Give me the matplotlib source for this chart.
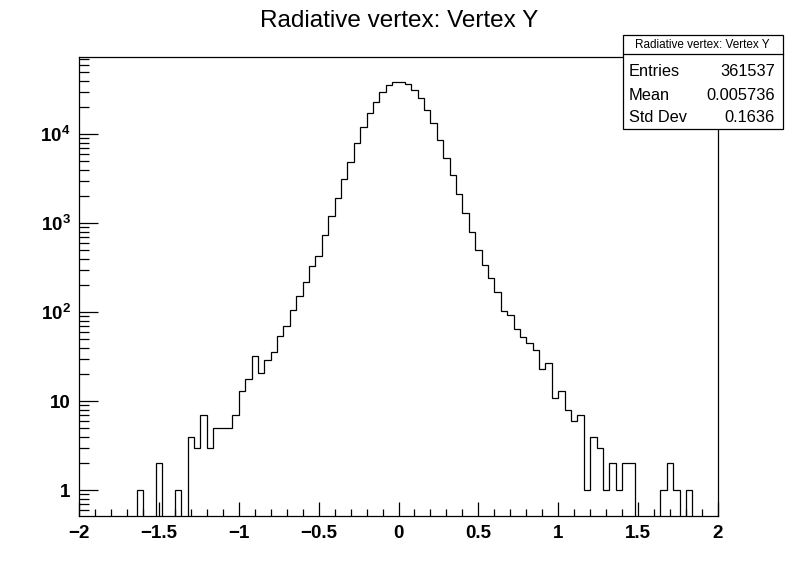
import numpy as np
import matplotlib
matplotlib.use("Agg")
import matplotlib.pyplot as plt
from matplotlib.ticker import MultipleLocator, LogLocator, FuncFormatter, NullFormatter
from matplotlib.patches import Rectangle
from matplotlib.lines import Line2D

plt.rcParams['font.family'] = ['Liberation Sans', 'DejaVu Sans']
plt.rcParams['mathtext.fontset'] = 'custom'
plt.rcParams['mathtext.rm'] = 'Liberation Sans:bold'
plt.rcParams['mathtext.bf'] = 'Liberation Sans:bold'
plt.rcParams['mathtext.it'] = 'Liberation Sans:bold'

# ---- data ----
title = "Radiative vertex: Vertex Y"
x_min, x_max, n_bins = -2.0, 2.0, 100
counts = [
    0, 0, 0, 0, 0, 0, 0, 0, 0, 1,
    0, 0, 2, 0, 0, 1, 0, 4, 3, 7,
    3, 5, 5, 5, 7, 13, 18, 32, 21, 29,
    36, 54, 70, 106, 153, 220, 333, 432, 744, 1218,
    1906, 3178, 4940, 7880, 11940, 17150, 22800, 29560, 35460, 38300,
    38300, 36380, 31120, 25300, 18540, 13240, 8730, 5480, 3525, 2155,
    1316, 796, 505, 342, 244, 170, 104, 94, 65, 53,
    45, 38, 23, 27, 11, 13, 8, 6, 7, 1,
    4, 3, 1, 2, 1, 2, 2, 0, 0, 0,
    0, 1, 2, 1, 0, 1, 0, 0, 0, 0,
]
stat_labels = ["Entries", "Mean", "Std Dev"]
stat_values = ["361537", "0.005736", "0.1636"]
y_min, y_max = 0.514, 73800

W, H = 798, 574
fig = plt.figure(figsize=(W / 100, H / 100), dpi=100)

def fx(x):
    return x / W

def fy(y):
    return 1 - y / H

ax = fig.add_axes([fx(79), fy(516), fx(718) - fx(79), fy(57) - fy(516)])

edges = np.linspace(x_min, x_max, n_bins + 1)
ax.stairs(np.array(counts, dtype=float), edges, color='black', linewidth=0.9, baseline=None)

ax.set_yscale('log', nonpositive='clip')
ax.set_xlim(x_min, x_max)
ax.set_ylim(y_min, y_max)

for s in ax.spines.values():
    s.set_linewidth(0.9)

ax.xaxis.set_major_locator(MultipleLocator(0.5))
ax.xaxis.set_minor_locator(MultipleLocator(0.1))
ax.xaxis.set_major_formatter(FuncFormatter(lambda v, p: ('%g' % v).replace('-', '\u2212')))

ax.yaxis.set_major_locator(LogLocator(base=10, numticks=20))
ax.yaxis.set_minor_locator(LogLocator(base=10, subs=np.arange(2, 10), numticks=50))
ax.yaxis.set_minor_formatter(NullFormatter())

def ylab(v, p):
    e = int(round(np.log10(v)))
    if e == 0:
        return '1'
    if e == 1:
        return '10'
    return r'$\mathbf{10^{%d}}$' % e

ax.yaxis.set_major_formatter(FuncFormatter(ylab))

ax.tick_params(axis='x', which='major', direction='in', length=9.9, width=0.9,
               top=False, pad=6.5, labelsize=13.5)
ax.tick_params(axis='x', which='minor', direction='in', length=5.0, width=0.9, top=False)
ax.tick_params(axis='y', which='major', direction='in', length=13.7, width=0.9,
               right=False, pad=6, labelsize=13.5)
ax.tick_params(axis='y', which='minor', direction='in', length=6.9, width=0.9, right=False)
for lab in ax.get_xticklabels() + ax.get_yticklabels():
    lab.set_fontweight('bold')

# title
fig.text(fx(399), fy(21), title, ha='center', va='center', fontsize=17.5)

# stats box
bx0, bx1, by0, by1 = 622.5, 782.5, 35, 129
rect = Rectangle((fx(bx0), fy(by1)), fx(bx1) - fx(bx0), fy(by0) - fy(by1),
                 transform=fig.transFigure, facecolor='white', edgecolor='black',
                 linewidth=0.9, zorder=10)
fig.add_artist(rect)
fig.add_artist(Line2D([fx(bx0), fx(bx1)], [fy(54.3), fy(54.3)], transform=fig.transFigure,
                      color='black', linewidth=0.9, zorder=11))
fig.text(fx(702.5), fy(45), title, ha='center', va='center', fontsize=8.5, zorder=12)
row_y = [72, 95, 118]
for lab, val, yy in zip(stat_labels, stat_values, row_y):
    fig.text(fx(629), fy(yy), lab, ha='left', va='center', fontsize=11.8, zorder=12)
    fig.text(fx(775), fy(yy), val, ha='right', va='center', fontsize=11.8, zorder=12)

fig.savefig('out.png', dpi=100)
